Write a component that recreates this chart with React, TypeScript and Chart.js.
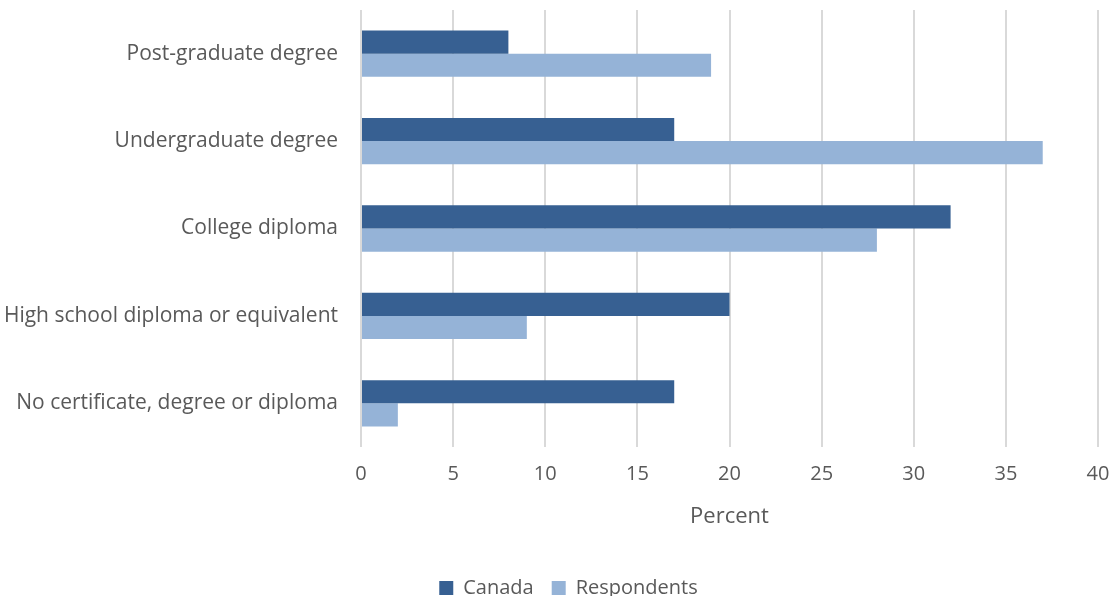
import React, { useEffect, useRef } from "react";
import { Chart, registerables } from "chart.js";

Chart.register(...registerables);

const categories = [
  "Post-graduate degree",
  "Undergraduate degree",
  "College diploma",
  "High school diploma or equivalent",
  "No certificate, degree or diploma",
];
const canadaValues = [8, 17, 32, 20, 17];
const respondentValues = [19, 37, 28, 9, 2];
const seriesNames = ["Canada", "Respondents"];
const xAxisTitle = "Percent";

const FONT = "'Open Sans', 'DejaVu Sans', sans-serif";
const TEXT = "#595959";

const shiftLegend = {
  id: "shiftLegend",
  afterLayout(chart: any) {
    const lg = chart.legend;
    if (lg) {
      lg.left = 24;
      lg.right = chart.width;
    }
  },
};

export default function App() {
  const ref = useRef<HTMLCanvasElement | null>(null);
  useEffect(() => {
    if (!ref.current) return;
    const chart = new Chart(ref.current, {
      type: "bar",
      data: {
        labels: categories,
        datasets: [
          {
            label: seriesNames[0],
            data: canadaValues,
            backgroundColor: "#376092",
            categoryPercentage: 0.53,
            barPercentage: 1,
          },
          {
            label: seriesNames[1],
            data: respondentValues,
            backgroundColor: "#95B3D7",
            categoryPercentage: 0.53,
            barPercentage: 1,
          },
        ],
      },
      plugins: [shiftLegend],
      options: {
        indexAxis: "y",
        animation: false,
        responsive: false,
        maintainAspectRatio: false,
        layout: { padding: { top: 10, right: 15, left: 0, bottom: -12 } },
        plugins: {
          tooltip: { enabled: false },
          legend: {
            position: "bottom",
            labels: {
              color: TEXT,
              font: { family: FONT, size: 20 },
              boxWidth: 14,
              boxHeight: 14,
              padding: 18,
            },
          },
        },
        scales: {
          x: {
            min: 0,
            max: 40,
            ticks: {
              stepSize: 5,
              color: TEXT,
              font: { family: FONT, size: 20 },
              padding: 15,
            },
            grid: { color: "#D9D9D9", lineWidth: 2, drawTicks: false },
            border: { display: false },
            title: {
              display: true,
              text: xAxisTitle,
              color: TEXT,
              font: { family: FONT, size: 22 },
              padding: { top: 10, bottom: 30 },
            },
            afterFit: (scale: any) => {
              scale.height = 113;
              scale.paddingLeft = 0;
              scale.paddingRight = 0;
            },
          },
          y: {
            ticks: {
              color: TEXT,
              font: { family: FONT, size: 21 },
              padding: 23,
            },
            grid: { display: false, drawTicks: false },
            border: { display: false },
            afterFit: (scale: any) => {
              scale.width = 361;
              scale.paddingTop = 0;
              scale.paddingBottom = 0;
            },
          },
        },
      },
    });
    return () => chart.destroy();
  }, []);
  return (
    <div style={{ position: "fixed", left: 0, top: 0, width: 1113, height: 596, background: "#fff" }}>
      <canvas ref={ref} width={1113} height={596} />
    </div>
  );
}
